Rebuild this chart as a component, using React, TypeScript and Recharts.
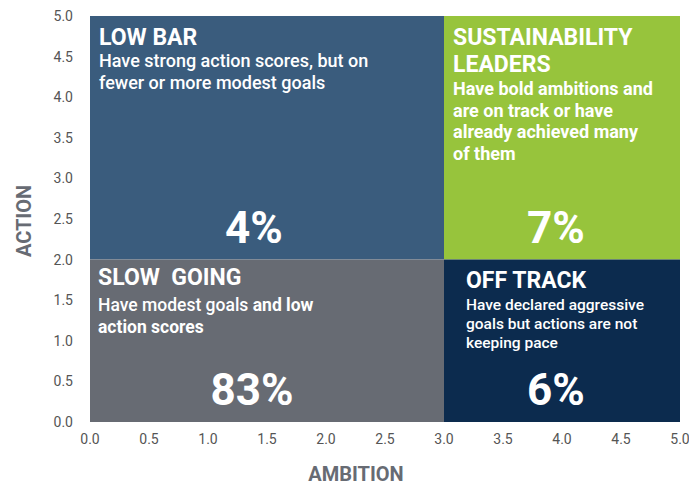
import { ComposedChart, Label, ReferenceArea, XAxis, YAxis } from "recharts";

const ticks = [0, 0.5, 1, 1.5, 2, 2.5, 3, 3.5, 4, 4.5, 5];

const quadrantIds = ["lowBar", "leaders", "slowGoing", "offTrack"];
const ambitionFrom = [0, 3, 0, 3];
const ambitionTo = [3, 5, 3, 5];
const actionFrom = [2, 2, 0, 0];
const actionTo = [5, 5, 2, 2];
const titles = [["LOW BAR"], ["SUSTAINABILITY", "LEADERS"], ["SLOW  GOING"], ["OFF TRACK"]];
// each line: [medium part, bold part]
const descriptions = [
  [["Have strong action scores, but on", ""], ["fewer or more modest goals", ""]],
  [
    ["", "Have bold ambitions and"],
    ["", "are on track or have"],
    ["", "already achieved many"],
    ["", "of them"],
  ],
  [["Have modest goals", " and low"], ["", "action scores"]],
  [
    ["Have declared aggressive", ""],
    ["goals but actions are not", ""],
    ["keeping pace", ""],
  ],
];
const shares = ["4%", "7%", "83%", "6%"];

const colors: Record<string, string> = {
  lowBar: "#3a5c7d",
  leaders: "#97c43c",
  slowGoing: "#676b73",
  offTrack: "#0c2b4e",
};

const layout: Record<string, any> = {
  lowBar: { padX: 9, titleY: 29, titleGap: 27, descY: 22, descGap: 22, descSize: 18, pctDx: -13 },
  leaders: { padX: 9, titleY: 29, titleGap: 27, descY: 23, descGap: 21.5, descSize: 18, pctDx: -6 },
  slowGoing: { padX: 8, titleY: 25, titleGap: 27, descY: 26, descGap: 22, descSize: 17.5, pctDx: -15 },
  offTrack: { padX: 22, titleY: 28, titleGap: 27, descY: 22, descGap: 19, descSize: 15.5, pctDx: -6 },
};

const font = "Roboto, sans-serif";

function quadrantLabel(i: number) {
  return (props: any) => {
    const { x, y, width, height } = props.viewBox;
    const s = layout[quadrantIds[i]];
    const tx = x + s.padX;
    const titleBase = y + s.titleY;
    const lastTitle = titleBase + (titles[i].length - 1) * s.titleGap;
    return (
      <g fontFamily={font} fill="#fff">
        {titles[i].map((t, k) => (
          <text
            key={"t" + k}
            x={tx}
            y={titleBase + k * s.titleGap}
            fontSize={23}
            fontWeight={700}
            style={{ whiteSpace: "pre" }}
          >
            {t}
          </text>
        ))}
        {descriptions[i].map((line, k) => (
          <text key={"d" + k} x={tx} y={lastTitle + s.descY + k * s.descGap} fontSize={s.descSize}>
            <tspan fontWeight={500}>{line[0]}</tspan>
            <tspan fontWeight={700} style={{ whiteSpace: "pre" }}>
              {line[1]}
            </tspan>
          </text>
        ))}
        <text
          x={x + width / 2 + s.pctDx}
          y={y + height - 17}
          fontSize={44}
          fontWeight={700}
          textAnchor="middle"
        >
          {shares[i]}
        </text>
      </g>
    );
  };
}

const axisTitle = (text: string, kind: "x" | "y") => (props: any) => {
  const { x, y, width, height } = props.viewBox;
  if (kind === "x") {
    return (
      <text x={x + width / 2 - 29} y={481} fontFamily={font} fontSize={20} fontWeight={700} fill="#676b73" textAnchor="middle">
        {text}
      </text>
    );
  }
  const cy = y + height / 2 + 2;
  return (
    <text
      x={31}
      y={cy}
      transform={`rotate(-90 31 ${cy})`}
      fontFamily={font}
      fontSize={20}
      fontWeight={700}
      fill="#676b73"
      textAnchor="middle"
    >
      {text}
    </text>
  );
};

export default function App() {
  return (
    <div style={{ position: "absolute", left: 0, top: 0, background: "#fff" }}>
      <ComposedChart
        width={689}
        height={485}
        data={[]}
        margin={{ top: 16, right: 9, bottom: 0, left: 0 }}
      >
        <XAxis
          type="number"
          dataKey="x"
          domain={[0, 5]}
          ticks={ticks}
          tickFormatter={(v) => v.toFixed(1)}
          axisLine={false}
          tickLine={false}
          tickSize={0}
          tickMargin={12}
          height={63}
          tick={{ fontSize: 14, fill: "#555", fontFamily: font }}
          allowDataOverflow
        >
          <Label content={axisTitle("AMBITION", "x")} />
        </XAxis>
        <YAxis
          type="number"
          dataKey="y"
          domain={[0, 5]}
          ticks={ticks}
          tickFormatter={(v) => v.toFixed(1)}
          axisLine={false}
          tickLine={false}
          tickSize={0}
          tickMargin={17}
          width={90}
          tick={{ fontSize: 14, fill: "#555", fontFamily: font }}
          allowDataOverflow
        >
          <Label content={axisTitle("ACTION", "y")} />
        </YAxis>
        {quadrantIds.map((id, i) => (
          <ReferenceArea
            key={id}
            x1={ambitionFrom[i]}
            x2={ambitionTo[i]}
            y1={actionFrom[i]}
            y2={actionTo[i]}
            fill={colors[id]}
            fillOpacity={1}
            stroke="none"
            ifOverflow="visible"
            label={quadrantLabel(i)}
          />
        ))}
      </ComposedChart>
    </div>
  );
}
